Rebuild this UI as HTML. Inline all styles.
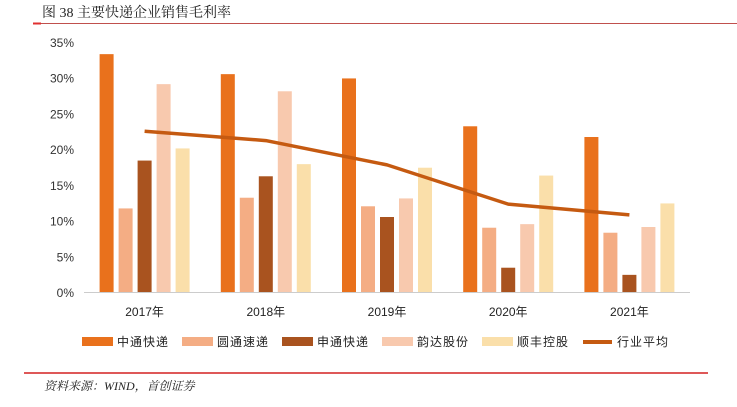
<!DOCTYPE html>
<html><head><meta charset="utf-8"><style>
body{margin:0;background:#fff;width:737px;height:402px;overflow:hidden;font-family:"Liberation Sans","Noto Sans CJK SC",sans-serif}
</style></head><body>
<svg width="737" height="402" id="c">
<text x="42" y="17" font-size="14" fill="#222" font-family="Liberation Serif,Noto Serif CJK SC,serif">图 38 主要快递企业销售毛利率</text>
<line x1="33" y1="23.5" x2="737" y2="23.5" stroke="#C0504D" stroke-width="1"/>
<line x1="33" y1="23.5" x2="41" y2="23.5" stroke="#E03030" stroke-width="2"/>
<line x1="24" y1="373" x2="708" y2="373" stroke="#D42020" stroke-width="1.5"/>
<text x="44" y="390" font-size="12" font-style="italic" fill="#222" font-family="Liberation Serif,Noto Serif CJK SC,serif">资料来源：WIND，首创证券</text>
<g id="plot"></g>
</svg>
<script>
const years=["2017年","2018年","2019年","2020年","2021年"];
const seriesNames=["中通快递","圆通速递","申通快递","韵达股份","顺丰控股"];
const s1=[33.3,30.5,29.9,23.2,21.7];
const s2=[11.7,13.2,12.0,9.0,8.3];
const s3=[18.4,16.2,10.5,3.4,2.4];
const s4=[29.1,28.1,13.1,9.5,9.1];
const s5=[20.1,17.9,17.4,16.3,12.4];
const avg=[22.5,21.2,17.8,12.3,10.8];
const yTicks=[0,5,10,15,20,25,30,35];
const colors=["#E9711C","#F4AD84","#A9531F","#F8C9AE","#FADFAA"];
const lineColor="#C55A11";
const NS="http://www.w3.org/2000/svg";
const g=document.getElementById('plot');
const x0=84,x1=690,y0=292,pxPer=250/35;
const gw=(x1-x0)/years.length;
const y=v=>y0-v*pxPer;
const gc=i=>x0+gw*(i+0.5);
function mk(t,a){const e=document.createElementNS(NS,t);for(const k in a)e.setAttribute(k,a[k]);g.appendChild(e);return e;}
yTicks.forEach(t=>{const e=mk('text',{x:74,y:y(t)+5,'text-anchor':'end','font-size':12,fill:'#333'});e.textContent=t+'%';

});
const ax=mk('line',{x1:x0,x2:x1,y1:y0+0.5,y2:y0+0.5,stroke:'#ccc'});


const all=[s1,s2,s3,s4,s5];
years.forEach((yr,i)=>{
 all.forEach((s,j)=>{const cx=gc(i)+(j-2)*19;
  const r=mk('rect',{x:cx-7,y:y(s[i]),width:14,height:s[i]*pxPer,fill:colors[j]});
  
  });
 const t=mk('text',{x:gc(i),y:y0+24,'text-anchor':'middle','font-size':12,fill:'#222'});t.textContent=yr;
 
 
});
const p=mk('polyline',{points:avg.map((v,i)=>gc(i)+','+y(v)).join(' '),fill:'none',stroke:lineColor,'stroke-width':3.5,'stroke-linejoin':'round'});


const lx=[82,182,282,382,482,582];
const names=seriesNames.concat(["行业平均"]);
names.forEach((n,k)=>{
 let m;
 if(k<5)m=mk('rect',{x:lx[k],y:337,width:31,height:9,fill:colors[k]});
 else m=mk('rect',{x:lx[k]+1,y:340,width:29,height:4,fill:lineColor});
 
 
 const t=mk('text',{x:lx[k]+35,y:346,'font-size':12,fill:'#222','letter-spacing':'1'});t.textContent=n;
 
 
});
</script>
</body></html>
